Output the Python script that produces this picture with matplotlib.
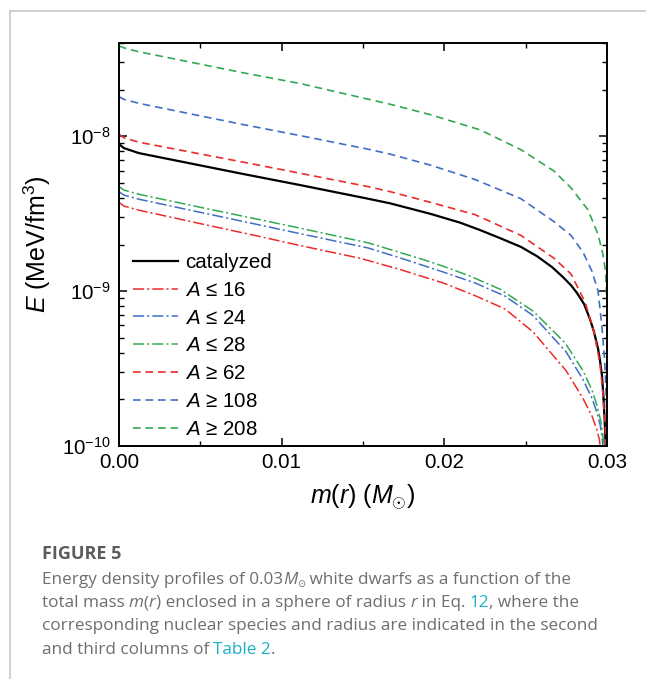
import matplotlib
matplotlib.use("Agg")
import matplotlib.pyplot as plt
import numpy as np
from matplotlib.ticker import MultipleLocator, LogLocator, FuncFormatter, NullFormatter, FixedLocator
from matplotlib.lines import Line2D

plt.rcParams["font.family"] = ["Liberation Sans", "DejaVu Sans"]
plt.rcParams["mathtext.fontset"] = "custom"
plt.rcParams["mathtext.rm"] = "Liberation Sans"
plt.rcParams["mathtext.it"] = "Liberation Sans:italic"
plt.rcParams["mathtext.sf"] = "Liberation Sans"
plt.rcParams["lines.scale_dashes"] = False

# enclosed mass m(r) in solar masses, energy density E in MeV/fm^3
m_cat = [0, 0.000307, 0.00123, 0.00762, 0.01113, 0.01531, 0.01666, 0.01912, 0.02096, 0.02219,
         0.02342, 0.02471, 0.02570, 0.02662, 0.02730, 0.02779, 0.02816, 0.02859, 0.02895, 0.02920,
         0.02945, 0.02957, 0.02969, 0.02978, 0.02985, 0.02990, 0.02995]
E_cat = [8.89e-9, 8.38e-9, 7.78e-9, 5.71e-9, 4.84e-9, 3.95e-9, 3.69e-9, 3.16e-9, 2.77e-9, 2.48e-9,
         2.20e-9, 1.93e-9, 1.68e-9, 1.43e-9, 1.23e-9, 1.09e-9, 9.71e-10, 8.25e-10, 6.61e-10, 5.46e-10,
         4.25e-10, 3.56e-10, 2.85e-10, 2.09e-10, 1.51e-10, 1.12e-10, 8.13e-11]

m_a16 = [0, 0.000307, 0.00123, 0.00498, 0.00867, 0.01113, 0.01482, 0.01727, 0.01992, 0.02188,
         0.02373, 0.02545, 0.02748, 0.02852, 0.02908, 0.02938, 0.02954, 0.02966]
E_a16 = [3.74e-9, 3.54e-9, 3.33e-9, 2.73e-9, 2.25e-9, 1.97e-9, 1.63e-9, 1.38e-9, 1.13e-9, 9.36e-10,
         7.67e-10, 5.46e-10, 3.07e-10, 2.03e-10, 1.56e-10, 1.27e-10, 1.09e-10, 8e-11]

m_a24 = [0, 0.000307, 0.00123, 0.00498, 0.00867, 0.01113, 0.01531, 0.01727, 0.01992, 0.02188,
         0.02373, 0.02545, 0.02748, 0.02852, 0.02908, 0.02938, 0.02960, 0.02972, 0.02981]
E_a24 = [4.39e-9, 4.17e-9, 3.92e-9, 3.23e-9, 2.67e-9, 2.35e-9, 1.90e-9, 1.64e-9, 1.33e-9, 1.13e-9,
         9.29e-10, 6.96e-10, 4.06e-10, 2.69e-10, 2.03e-10, 1.65e-10, 1.34e-10, 1.09e-10, 8.13e-11]

m_a28 = [0, 0.000307, 0.00123, 0.00498, 0.00867, 0.01113, 0.01531, 0.01869, 0.01992, 0.02158,
         0.02342, 0.02545, 0.02742, 0.02852, 0.02908, 0.02938, 0.02963, 0.02978, 0.02989]
E_a28 = [4.73e-9, 4.49e-9, 4.22e-9, 3.48e-9, 2.89e-9, 2.55e-9, 2.05e-9, 1.60e-9, 1.45e-9, 1.25e-9,
         1.03e-9, 7.44e-10, 4.64e-10, 3.07e-10, 2.29e-10, 1.83e-10, 1.43e-10, 1.09e-10, 7.78e-11]

m_a62 = [0, 0.000307, 0.00123, 0.00762, 0.01113, 0.01531, 0.01666, 0.01912, 0.02188, 0.02471,
         0.02674, 0.02779, 0.02865, 0.02920, 0.02957, 0.02975, 0.02988, 0.02997]
E_a62 = [1.03e-8, 9.78e-9, 9.15e-9, 6.81e-9, 5.77e-9, 4.73e-9, 4.39e-9, 3.75e-9, 3.12e-9, 2.29e-9,
         1.63e-9, 1.29e-9, 8.50e-10, 5.46e-10, 3.40e-10, 2.19e-10, 1.40e-10, 8.38e-11]

m_a108 = [0, 0.000307, 0.00123, 0.00762, 0.01113, 0.01531, 0.01666, 0.01912, 0.02188, 0.02471,
          0.02674, 0.02779, 0.02853, 0.02908, 0.02945, 0.02969, 0.02985, 0.02996, 0.03]
E_a108 = [1.80e-8, 1.73e-8, 1.63e-8, 1.19e-8, 1.01e-8, 8.25e-9, 7.67e-9, 6.52e-9, 5.26e-9, 3.95e-9,
          2.81e-9, 2.29e-9, 1.78e-9, 1.34e-9, 1.0e-9, 5.87e-10, 3.66e-10, 2.03e-10, 8.38e-11]

m_a208 = [0, 0.000307, 0.00123, 0.00762, 0.01113, 0.01666, 0.01912, 0.02219, 0.02471, 0.02674,
          0.02779, 0.02883, 0.02945, 0.02975, 0.02991, 0.02999, 0.03]
E_a208 = [3.83e-8, 3.72e-8, 3.51e-8, 2.57e-8, 2.19e-8, 1.61e-8, 1.38e-8, 1.10e-8, 8.19e-9, 5.96e-9,
          4.64e-9, 3.35e-9, 2.32e-9, 1.73e-9, 1.34e-9, 8.89e-10, 8e-11]

labels = ["catalyzed", "$A$ ≤ 16", "$A$ ≤ 24", "$A$ ≤ 28", "$A$ ≥ 62", "$A$ ≥ 108", "$A$ ≥ 208"]
x_ticks = [0.0, 0.01, 0.02, 0.03]
y_ticks = [1e-10, 1e-9, 1e-8]

RED = "#ec2b2b"
BLUE = "#3f6ec4"
GREEN = "#33a852"
DASHDOT = (0, (8.0, 2.2, 1.5, 2.2))
DASHED = (0, (5.5, 3.5))

series = [
    (m_cat, E_cat, "black", "-", 1.6),
    (m_a16, E_a16, RED, DASHDOT, 1.1),
    (m_a24, E_a24, BLUE, DASHDOT, 1.1),
    (m_a28, E_a28, GREEN, DASHDOT, 1.1),
    (m_a62, E_a62, RED, DASHED, 1.2),
    (m_a108, E_a108, BLUE, DASHED, 1.2),
    (m_a208, E_a208, GREEN, DASHED, 1.2),
]

W, H = 646, 679
fig = plt.figure(figsize=(W / 100, H / 100), dpi=100)
ax = fig.add_axes([119 / W, 1 - 446 / H, 488 / W, 403 / H])

for (m, E, c, ls, lw), lab in zip(series, labels):
    ax.plot(m, E, color=c, linestyle=ls, lw=lw, label=lab)

ax.set_yscale("log")
ax.set_xlim(0, 0.03)
ax.set_ylim(1e-10, 4e-8)

ax.xaxis.set_major_locator(FixedLocator(x_ticks))
ax.xaxis.set_major_formatter(FuncFormatter(lambda v, p: f"{v:.2f}"))
ax.xaxis.set_minor_locator(MultipleLocator(0.005))
ax.yaxis.set_major_locator(FixedLocator(y_ticks))
ax.yaxis.set_major_formatter(FuncFormatter(lambda v, p: "$10^{%d}$" % round(np.log10(v))))
ax.yaxis.set_minor_locator(LogLocator(base=10, subs=np.arange(2, 10) * 1.0, numticks=20))
ax.yaxis.set_minor_formatter(NullFormatter())

ax.tick_params(which="both", direction="in", top=True, right=True)
ax.tick_params(which="major", length=6, width=1.1, labelsize=14.8)
ax.tick_params(axis="x", which="major", pad=5)
ax.tick_params(axis="y", which="major", pad=6)
ax.tick_params(which="minor", length=3.6, width=1.0)
for s in ax.spines.values():
    s.set_linewidth(1.4)

ax.set_xlabel("$m$($r$) ($M_{\\odot}$)", fontsize=18)
ax.set_ylabel("$E$ (MeV/fm$^3$)", fontsize=18)
ax.xaxis.set_label_coords(0.5, -0.092)
ax.yaxis.set_label_coords(-0.135, 0.5)

ax.legend(loc="lower left", bbox_to_anchor=(0.0287, 0.0174), frameon=False,
          fontsize=14.8, handlelength=2.2, handletextpad=0.35, labelspacing=0.43,
          borderpad=0, borderaxespad=0)

# page frame lines
fig.add_artist(Line2D([10 / W, 1], [1 - 11 / H, 1 - 11 / H], color="#c8c8c8", lw=1.2,
                      transform=fig.transFigure))
fig.add_artist(Line2D([10 / W, 10 / W], [0, 1 - 11 / H], color="#c8c8c8", lw=1.2,
                      transform=fig.transFigure))

# caption
renderer = fig.canvas.get_renderer()
CAP = ["Open Sans", "DejaVu Sans"]
GRAY = "#6e6e6e"
LINK = "#1aafc6"


def advance(txt, **kw):
    a = fig.text(0, 0, "x" + txt + "x", **kw)
    b = fig.text(0, 0, "xx", **kw)
    w = a.get_window_extent(renderer).width - b.get_window_extent(renderer).width
    a.remove()
    b.remove()
    return w


def put_line(x, base, segs):
    for txt, kw in segs:
        dy = kw.pop("dy", 0)
        kw = dict(dict(family=CAP, fontsize=12.3, color=GRAY), **kw)
        fig.text(x / W, 1 - (base + dy) / H, txt, va="baseline", ha="left", **kw)
        x += advance(txt, **kw)


fig.text(41.7 / W, 1 - 559.3 / H, "FIGURE 5", family=CAP, fontsize=13, fontweight="bold",
         color="#5c5c5c", va="baseline", ha="left")
put_line(41.7, 584, [("Energy density profiles of 0.03", {}), ("M", dict(style="italic")),
                     ("⊙", dict(fontsize=7, dy=3)),
                     (" white dwarfs as a function of the", {})])
put_line(41.7, 607.3, [("total mass ", {}), ("m", dict(style="italic")), ("(", {}),
                       ("r", dict(style="italic")), (") enclosed in a sphere of radius ", {}),
                       ("r", dict(style="italic")), (" in Eq. ", {}), ("12", dict(color=LINK)),
                       (", where the", {})])
put_line(41.7, 630, [("corresponding nuclear species and radius are indicated in the second", {})])
put_line(41.7, 654, [("and third columns of ", {}), ("Table 2", dict(color=LINK)), (".", {})])

fig.savefig("out.png", dpi=100)
